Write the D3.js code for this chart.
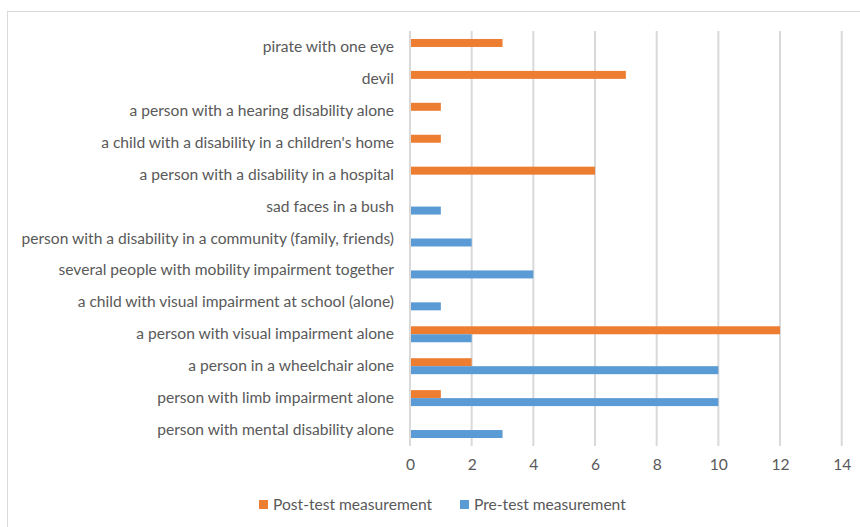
<!DOCTYPE html>
<html>
<head>
<meta charset="utf-8">
<script src="https://cdn.jsdelivr.net/npm/d3@7"></script>
<style>
  body { margin: 0; background: #fff; }
  svg { display: block; }
  text { font-family: Lato, "Open Sans", sans-serif; fill: #595959; }
</style>
</head>
<body>
<svg id="chart" width="860" height="527"></svg>
<script>
// Drawing themes, listed top to bottom
const categories = [
  "pirate with one eye",
  "devil",
  "a person with a hearing disability alone",
  "a child with a disability in a children's home",
  "a person with a disability in a hospital",
  "sad faces in a bush",
  "person with a disability in a community (family, friends)",
  "several people with mobility impairment together",
  "a child with visual impairment at school (alone)",
  "a person with visual impairment alone",
  "a person in a wheelchair alone",
  "person with limb impairment alone",
  "person with mental disability alone"
];
const postTest = [3, 7, 1, 1, 6, 0, 0, 0, 0, 12, 2, 1, 0];
const preTest  = [0, 0, 0, 0, 0, 1, 2, 4, 1, 2, 10, 10, 3];
const xTicks = [0, 2, 4, 6, 8, 10, 12, 14];
const seriesNames = ["Post-test measurement", "Pre-test measurement"];
const seriesColors = ["#ed7d31", "#5b9bd5"];

const svg = d3.select("#chart");
const FS = 15.6;

// chart frame
svg.append("rect")
  .attr("x", 7.5).attr("y", 11.5)
  .attr("width", 900).attr("height", 600)
  .attr("fill", "none").attr("stroke", "#d9d9d9").attr("stroke-width", 1);

const x = d3.scaleLinear().domain([0, 14]).range([410, 841.7]);
const y = d3.scaleBand().domain(categories).range([31, 446]).paddingInner(0.5).paddingOuter(0.25);
const sub = d3.scaleBand().domain(seriesNames).range([0, y.bandwidth()]);

// vertical gridlines
svg.append("g").selectAll("line").data(xTicks).join("line")
  .attr("x1", d => x(d)).attr("x2", d => x(d))
  .attr("y1", 31).attr("y2", 446)
  .attr("stroke", "#d9d9d9").attr("stroke-width", 2);

// x-axis tick labels
const xAxis = d3.axisBottom(x).tickValues(xTicks).tickSize(0).tickPadding(13);
const gx = svg.append("g").attr("transform", "translate(0,446)").call(xAxis);
gx.select(".domain").remove();
gx.selectAll("text").attr("font-size", FS).attr("fill", "#595959")
  .style("font-family", "Lato, sans-serif");

// category labels
const yAxis = d3.axisLeft(y).tickSize(0).tickPadding(16);
const gy = svg.append("g").attr("transform", "translate(410,0)").call(yAxis);
gy.select(".domain").remove();
gy.selectAll("text").attr("font-size", FS).attr("fill", "#595959")
  .style("font-family", "Lato, sans-serif");

// bars
const rows = categories.map((c, i) => ({ c, vals: [postTest[i], preTest[i]] }));
const groups = svg.append("g").selectAll("g").data(rows).join("g")
  .attr("transform", d => `translate(0,${y(d.c)})`);
groups.selectAll("rect")
  .data(d => d.vals.map((v, k) => ({ v, k })).filter(e => e.v > 0))
  .join("rect")
  .attr("x", x(0) + 1)
  .attr("y", e => sub(seriesNames[e.k]))
  .attr("width", e => x(e.v) - x(0) - 1)
  .attr("height", sub.bandwidth())
  .attr("fill", e => seriesColors[e.k]);

// legend
const legendX = [259, 460];
const lg = svg.append("g").selectAll("g").data(seriesNames).join("g")
  .attr("transform", (d, i) => `translate(${legendX[i]},500)`);
lg.append("rect").attr("width", 9).attr("height", 9)
  .attr("fill", (d, i) => seriesColors[i]);
lg.append("text").attr("x", 14).attr("y", 10)
  .attr("font-size", FS).text(d => d);
</script>
</body>
</html>
